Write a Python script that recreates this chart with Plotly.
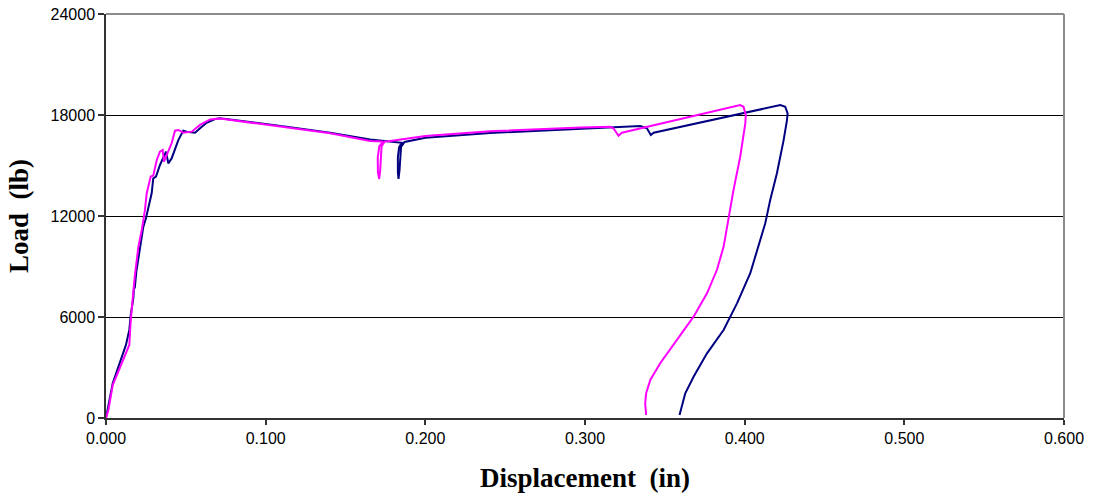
import plotly.graph_objects as go

# Series 1 (navy)
blue_x = [0, 0.0042, 0.0125, 0.0146, 0.0155, 0.0171, 0.0177, 0.0180, 0.0190, 0.0209, 0.0234,
          0.0251, 0.0262, 0.0286, 0.0296, 0.0313, 0.0338, 0.0359, 0.0376, 0.0390, 0.0411,
          0.0453, 0.0484, 0.0505, 0.0558, 0.0589, 0.0630, 0.0683, 0.0714, 0.1153, 0.1404,
          0.1654, 0.1800, 0.1852, 0.1836, 0.1828, 0.1828, 0.1832, 0.1838, 0.1842, 0.1848,
          0.1870, 0.2000, 0.2406, 0.2970, 0.3158, 0.3346, 0.3388, 0.3412, 0.3430, 0.4223,
          0.4254, 0.4269, 0.4265, 0.4244, 0.4202, 0.4160, 0.4129, 0.4087, 0.4035, 0.3952,
          0.3868, 0.3764, 0.3680, 0.3628, 0.3592]
blue_y = [0, 2060, 4340, 5230, 6120, 7110, 8000, 7700, 8700, 9780, 11370,
          11900, 12400, 13350, 14240, 14340, 15030, 15530, 15820, 15130, 15420,
          16510, 17070, 17010, 16950, 17210, 17540, 17760, 17800, 17280, 16950,
          16550, 16380, 16350, 16100, 15500, 14600, 14200, 14700, 15600, 16100,
          16400, 16650, 16930, 17170, 17270, 17340, 17210, 16810, 16950, 18590,
          18490, 18100, 17700, 16510, 14540, 12950, 11570, 10180, 8600, 6810,
          5230, 3840, 2450, 1470, 180]

# Series 2 (magenta)
pink_x = [0, 0.0015, 0.0042, 0.0146, 0.0155, 0.0171, 0.0180, 0.0203, 0.0224, 0.0244,
          0.0255, 0.0280, 0.0296, 0.0318, 0.0338, 0.0355, 0.0363, 0.0380, 0.0411, 0.0432,
          0.0453, 0.0484, 0.0537, 0.0589, 0.0652, 0.0714, 0.1153, 0.1404, 0.1654, 0.1735,
          0.1712, 0.1702, 0.1703, 0.1711, 0.1717, 0.1720, 0.1726, 0.1745, 0.1780, 0.2000,
          0.2406, 0.2970, 0.3158, 0.3178, 0.3210, 0.3231, 0.3972, 0.3993, 0.4007, 0.4004,
          0.3972, 0.3930, 0.3899, 0.3868, 0.3826, 0.3764, 0.3680, 0.3576, 0.3471, 0.3409,
          0.3383, 0.3377, 0.3383]
pink_y = [0, 475, 1960, 4340, 5820, 7410, 8400, 10180, 11170, 12360,
          13350, 14340, 14400, 15330, 15820, 15920, 15230, 15620, 16320, 17070,
          17110, 16950, 17010, 17410, 17740, 17790, 17250, 16910, 16450, 16420,
          16150, 15500, 14600, 14200, 14700, 15600, 16150, 16420, 16450, 16750,
          17030, 17250, 17300, 17210, 16770, 16950, 18590, 18490, 18000, 17500,
          15520, 13540, 11960, 10170, 8790, 7410, 6020, 4630, 3250, 2260,
          1470, 870, 180]

x_ticks = [0.0, 0.1, 0.2, 0.3, 0.4, 0.5, 0.6]
x_ticklabels = ["0.000", "0.100", "0.200", "0.300", "0.400", "0.500", "0.600"]
y_ticks = [0, 6000, 12000, 18000, 24000]
y_ticklabels = ["0", "6000", "12000", "18000", "24000"]

fig = go.Figure()
fig.add_trace(go.Scatter(x=blue_x, y=blue_y, mode="lines", name="Series 1",
                         line=dict(color="#000080", width=2)))
fig.add_trace(go.Scatter(x=pink_x, y=pink_y, mode="lines", name="Series 2",
                         line=dict(color="#FF00FF", width=2)))

tick_font = dict(family="Liberation Sans, Arial, sans-serif", size=16, color="black")
title_font = dict(family="Liberation Serif, Times New Roman, serif", size=27, color="black", weight="bold")

fig.update_layout(
    width=1093, height=501,
    margin=dict(l=106, r=29, t=14, b=83, autoexpand=False),
    paper_bgcolor="white", plot_bgcolor="white",
    showlegend=False,
    xaxis=dict(range=[0, 0.6], tickvals=x_ticks, ticktext=x_ticklabels,
               ticks="outside", ticklen=5, tickcolor="#333", tickwidth=1.5,
               showline=True, linecolor="#333", linewidth=1.5, automargin=False,
               showgrid=False, zeroline=False, tickfont=tick_font,
               title=dict(text="Displacement\u00a0 (in)", font=title_font, standoff=22)),
    yaxis=dict(range=[0, 24000], tickvals=y_ticks, ticktext=y_ticklabels,
               ticks="outside", ticklen=6, tickcolor="#333", tickwidth=1.5,
               showline=True, linecolor="#333", linewidth=1.5, automargin=False,
               showgrid=True, gridcolor="black", gridwidth=1,
               zeroline=False, tickfont=tick_font,
               title=dict(text="Load\u00a0 (lb)", font=title_font, standoff=14)),
    shapes=[
        dict(type="line", xref="paper", yref="paper", x0=0, x1=1, y0=1, y1=1,
             line=dict(color="#8c8c8c", width=2), layer="above"),
        dict(type="line", xref="paper", yref="paper", x0=1, x1=1, y0=0, y1=1,
             line=dict(color="#8c8c8c", width=2), layer="above"),
    ],
)

fig.write_html("out.html", config={"displayModeBar": False},
               post_script="document.body.style.margin='0';document.body.style.padding='0';")
